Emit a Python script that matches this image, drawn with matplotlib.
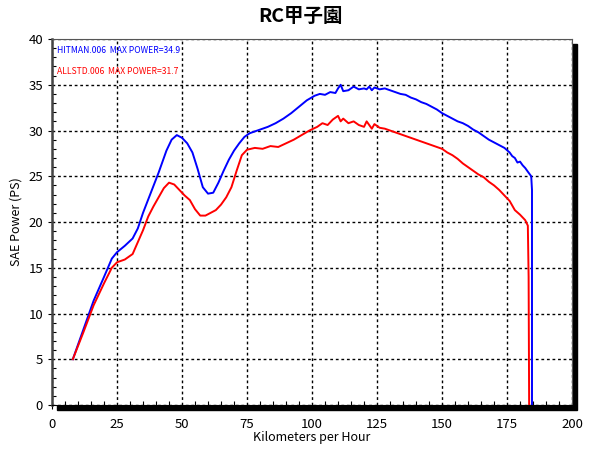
import matplotlib.pyplot as plt
from matplotlib.patches import Rectangle

plt.rcParams['font.family'] = ['Noto Sans CJK JP', 'DejaVu Sans']

# dyno data
speed_hitman = [8, 12, 16, 20, 23, 25, 28, 31, 33, 35, 38, 41, 44, 46, 48, 50, 52, 54, 56, 58,
                60, 62, 64, 66, 68, 70, 72, 74, 76, 78, 80, 83, 86, 89, 92, 95, 98, 101, 103, 105,
                107, 109, 110, 111, 112, 114, 116, 118, 120, 121, 122, 123, 124, 126, 128, 130,
                132, 134, 136, 138, 140, 142, 144, 146, 148, 150, 152, 154, 156, 158, 160, 162,
                164, 166, 168, 170, 172, 174, 176, 177, 178, 179, 180, 181, 182, 183, 184.3,
                184.6, 184.6]
power_hitman = [5.0, 8.2, 11.4, 14.0, 16.0, 16.7, 17.4, 18.2, 19.3, 21.0, 23.2, 25.4, 27.8, 29.0,
                29.5, 29.2, 28.6, 27.6, 25.8, 23.8, 23.1, 23.2, 24.3, 25.6, 26.8, 27.8, 28.6, 29.3,
                29.7, 29.9, 30.1, 30.4, 30.8, 31.3, 31.9, 32.6, 33.3, 33.8, 34.0, 33.9, 34.2, 34.1,
                34.6, 35.0, 34.3, 34.4, 34.8, 34.5, 34.6, 34.5, 34.8, 34.4, 34.7, 34.5, 34.6, 34.4,
                34.2, 34.0, 33.9, 33.6, 33.4, 33.1, 32.9, 32.6, 32.3, 31.9, 31.6, 31.3, 31.0, 30.8,
                30.5, 30.1, 29.8, 29.4, 29.0, 28.7, 28.4, 28.1, 27.6, 27.2, 27.0, 26.5, 26.6, 26.2,
                25.9, 25.5, 25.0, 23.5, 0]

speed_allstd = [8, 12, 16, 20, 23, 25, 28, 31, 33, 35, 37, 39, 41, 43, 45, 47, 49, 51, 53, 55,
                57, 59, 61, 63, 65, 67, 69, 71, 73, 75, 78, 81, 84, 87, 90, 93, 96, 99, 102, 104,
                106, 108, 110, 111, 112, 114, 116, 118, 120, 121, 122, 123, 124, 126, 128, 130,
                132, 134, 136, 138, 140, 142, 144, 146, 148, 150, 152, 154, 156, 158, 160, 162,
                164, 166, 168, 170, 172, 174, 176, 178, 180, 182, 183, 183.3, 183.5]
power_allstd = [5.0, 7.9, 10.9, 13.3, 15.0, 15.6, 15.9, 16.5, 17.8, 19.1, 20.6, 21.7, 22.7, 23.7,
                24.3, 24.1, 23.5, 22.9, 22.4, 21.4, 20.7, 20.7, 21.0, 21.3, 21.9, 22.7, 23.8, 25.6,
                27.3, 27.9, 28.1, 28.0, 28.3, 28.2, 28.6, 29.0, 29.5, 30.0, 30.4, 30.8, 30.6, 31.2,
                31.6, 31.0, 31.3, 30.8, 31.0, 30.6, 30.4, 31.0, 30.6, 30.2, 30.7, 30.3, 30.2, 30.0,
                29.8, 29.6, 29.4, 29.2, 29.0, 28.8, 28.6, 28.4, 28.2, 28.0, 27.6, 27.3, 26.9, 26.4,
                26.0, 25.6, 25.2, 24.9, 24.4, 24.0, 23.5, 22.9, 22.3, 21.3, 20.8, 20.2, 19.6, 14.0, 0]

label_hitman = 'HITMAN.006  MAX POWER=34.9'
label_allstd = 'ALLSTD.006  MAX POWER=31.7'

fig = plt.figure(figsize=(6, 4.5), dpi=100)
ax = fig.add_axes([0.0867, 0.1, 0.8667, 0.8133])

# drop shadow behind the plot box
fig.patches.append(Rectangle((0.0867 + 0.009, 0.1 - 0.011), 0.8667, 0.8133,
                             transform=fig.transFigure, color='black', zorder=0))
ax.set_zorder(1)

ax.plot(speed_hitman, power_hitman, color='blue', lw=1.4)
ax.plot(speed_allstd, power_allstd, color='red', lw=1.4)

ax.set_xlim(0, 200)
ax.set_ylim(0, 40)
ax.set_xticks(range(0, 201, 25))
ax.set_yticks(range(0, 41, 5))
ax.set_xticks(range(0, 201, 5), minor=True)
ax.set_yticks(range(0, 41, 1), minor=True)
ax.tick_params(which='major', direction='out', length=3, labelsize=9.5)
ax.tick_params(axis='x', which='major', pad=6)
ax.tick_params(which='minor', direction='in', length=3, width=0.8)
ax.grid(True, which='major', color='black', linestyle=(0, (2, 2)), lw=1)

for s in ['top', 'right']:
    ax.spines[s].set_color('#555555')
    ax.spines[s].set_linewidth(0.8)
ax.spines['left'].set_color('#444444')
ax.spines['left'].set_linewidth(1.8)

ax.text(2, 38.7, label_hitman, color='blue', fontsize=6.2, va='center')
ax.text(2, 36.5, label_allstd, color='red', fontsize=6.2, va='center')

ax.set_xlabel('Kilometers per Hour', fontsize=9, labelpad=0)
ax.set_ylabel('SAE Power (PS)', fontsize=9)
fig.suptitle('RC甲子園', fontsize=14, fontweight='bold', y=0.985)

plt.savefig('out.png', dpi=100)
